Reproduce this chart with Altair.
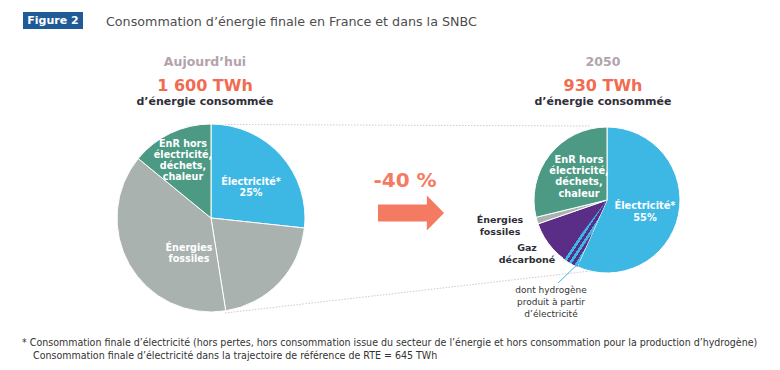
import altair as alt
import pandas as pd

OFF = 8  # page margin

# ---------------- data ----------------
categories = ["Électricité", "Énergies fossiles", "Gaz décarboné",
              "EnR hors électricité, déchets, chaleur"]
cat_colors = ["#3DB7E4", "#A9B2AF", "#5A2D87", "#4C9984"]

left_segments = ["Électricité", "Énergies fossiles", "Énergies fossiles",
                 "EnR hors électricité, déchets, chaleur"]
left_shares = [26.7, 20.8, 38.4, 14.1]

right_segments = ["Électricité", "Gaz décarboné", "Énergies fossiles",
                  "EnR hors électricité, déchets, chaleur"]
right_shares = [56.7, 13.0, 1.5, 28.8]
hydrogen_share = 3.6

periods = ["Aujourd’hui", "2050"]
totals = ["1 600 TWh", "930 TWh"]
reduction = "-40 %"
elec_pct = ["25%", "55%"]


def pie_df(segs, shares):
    rows, acc = [], 0.0
    for i, (s, v) in enumerate(zip(segs, shares)):
        rows.append({"cat": s, "start": acc, "end": acc + v, "order": i})
        acc += v
    return pd.DataFrame(rows)


left_df = pie_df(left_segments, left_shares)
right_df = pie_df(right_segments, right_shares)
h2_df = pd.DataFrame([{"start": right_shares[0],
                       "end": right_shares[0] + hydrogen_share}])

theta_scale = alt.Scale(domain=[0, 100], range=[0, 6.283185307179586])
color_scale = alt.Scale(domain=categories, range=cat_colors)


def pie(df, cx, cy, r):
    return alt.Chart(df).mark_arc(radius=r, stroke="white", strokeWidth=1).encode(
        theta=alt.Theta("start:Q", stack=None, scale=theta_scale),
        theta2="end:Q",
        color=alt.Color("cat:N", scale=color_scale, legend=None),
        x=alt.value(cx - OFF), y=alt.value(cy - OFF),
    )


def txt(lines, x, y, size=11, color="#333333", weight="normal", align="center",
        font="DejaVu Sans", lh=None, baseline="middle"):
    props = dict(text=lines, fontSize=size, color=color, fontWeight=weight,
                 align=align, font=font, baseline=baseline)
    if lh:
        props["lineHeight"] = lh
    return alt.Chart(alt.Data(values=[{}])).mark_text(**props).encode(
        x=alt.value(x - OFF), y=alt.value(y - OFF))


def rule(x1, y1, x2, y2, color, width=1, dash=None):
    props = dict(color=color, strokeWidth=width)
    if dash:
        props["strokeDash"] = dash
    return alt.Chart(alt.Data(values=[{}])).mark_rule(**props).encode(
        x=alt.value(x1 - OFF), y=alt.value(y1 - OFF),
        x2=alt.value(x2 - OFF), y2=alt.value(y2 - OFF))


# hatch gradient (diagonal stripes) for the hydrogen wedge
stops = []
n = 13
for i in range(n):
    a = i / n
    b = (i + 0.5) / n
    c = (i + 1) / n
    stops += [alt.GradientStop(color="#3DB7E4", offset=a),
              alt.GradientStop(color="#3DB7E4", offset=b),
              alt.GradientStop(color="#5A2D87", offset=b),
              alt.GradientStop(color="#5A2D87", offset=c)]
hatch = alt.LinearGradient(gradient="linear", stops=stops, x1=0, y1=0, x2=1, y2=1)

h2_layer = alt.Chart(h2_df).mark_arc(radius=73, fill=hatch, strokeWidth=0).encode(
    theta=alt.Theta("start:Q", stack=None, scale=theta_scale),
    theta2="end:Q",
    x=alt.value(607 - OFF), y=alt.value(200 - OFF),
)

# figure badge
badge = alt.Chart(alt.Data(values=[{}])).mark_rect(color="#1F5B97").encode(
    x=alt.value(23 - OFF), x2=alt.value(83 - OFF),
    y=alt.value(12 - OFF), y2=alt.value(29 - OFF))

arrow_path = "M -1 -0.26 L 0.48 -0.26 L 0.48 -0.53 L 1 0 L 0.48 0.53 L 0.48 0.26 L -1 0.26 Z"
arrow = alt.Chart(alt.Data(values=[{}])).mark_point(
    shape=arrow_path, size=4356, filled=True, color="#F47A62", opacity=1, strokeWidth=0
).encode(x=alt.value(411 - OFF), y=alt.value(213 - OFF))

W = "white"
DK = "#2E2E38"
layers = [
    badge,
    txt("Figure 2", 53, 21, size=11, color=W, weight="bold"),
    txt("Consommation d’énergie finale en France et dans la SNBC", 106, 22,
        size=12.7, color="#4D4D4D", align="left"),
    # headers
    txt(periods[0], 205, 62, size=12.5, color="#B3A3AB", weight="bold"),
    txt(totals[0], 205, 86, size=16, color="#F26B50", weight="bold"),
    txt("d’énergie consommée", 205, 102, size=11, color=DK, weight="bold"),
    txt(periods[1], 603, 62, size=12.5, color="#B3A3AB", weight="bold"),
    txt(totals[1], 603, 86, size=16, color="#F26B50", weight="bold"),
    txt("d’énergie consommée", 603, 102, size=11, color=DK, weight="bold"),
    # connectors
    rule(225, 124.5, 590, 126, "#D9C6CC", 1, [1.5, 1.5]),
    rule(225, 313, 590, 271, "#D9C6CC", 1, [1.5, 1.5]),
    # pies
    pie(left_df, 211, 218, 94),
    pie(right_df, 607, 200, 73),
    h2_layer,
    rule(580, 262, 558, 283, "#3DB7E4", 1),
    # left labels (y = first line)
    txt(["EnR hors", "électricité,", "déchets,", "chaleur"], 183, 144, size=9.6,
        color=W, weight="bold", lh=11),
    txt(["Électricité*", elec_pct[0]], 251, 182, size=9.6, color=W, weight="bold", lh=11),
    txt(["Énergies", "fossiles"], 189, 248, size=9.6, color=W, weight="bold", lh=11),
    # right labels
    txt(["EnR hors", "électricité,", "déchets,", "chaleur"], 579, 160, size=9.8,
        color=W, weight="bold", lh=11.2),
    txt(["Électricité*", elec_pct[1]], 645, 206, size=9.8, color=W, weight="bold", lh=12),
    txt(["Énergies", "fossiles"], 500, 220, size=9.5, color=DK, weight="bold", lh=12),
    txt(["Gaz", "décarboné"], 527, 248, size=9.5, color=DK, weight="bold", lh=12),
    txt(["dont hydrogène", "produit à partir", "d’électricité"], 551, 290, size=9,
        color="#333333", lh=12),
    # arrow
    txt(reduction, 405, 181, size=20, color="#F47A62", weight="bold"),
    arrow,
    # footnote
    txt("* Consommation finale d’électricité (hors pertes, hors consommation issue du secteur de l’énergie et hors consommation pour la production d’hydrogène)",
        22, 343, size=10.55, color="#333333", align="left", font="DejaVu Sans Condensed"),
    txt("Consommation finale d’électricité dans la trajectoire de référence de RTE = 645 TWh",
        33, 356, size=10.55, color="#333333", align="left", font="DejaVu Sans Condensed"),
]

chart = alt.layer(*layers).properties(
    width=764, height=354, padding=0,
    autosize=alt.AutoSizeParams(type="none"),
    background="white",
).configure_view(stroke=None)

chart.save("out.html", embed_options={"renderer": "svg", "actions": False})
